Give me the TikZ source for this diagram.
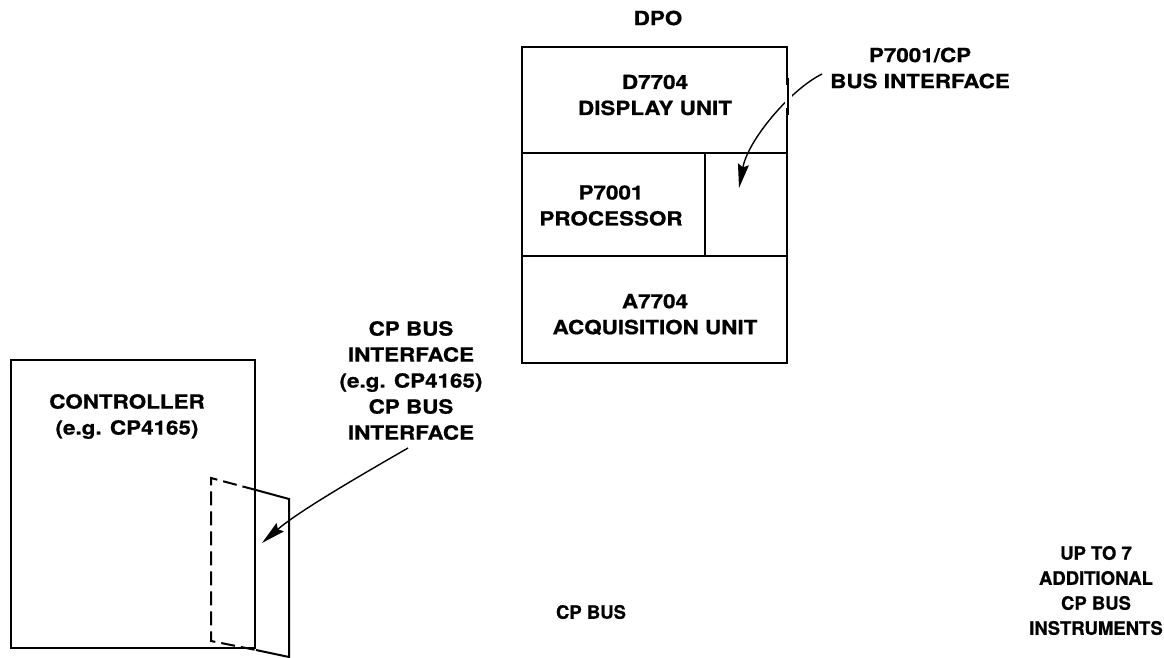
\documentclass[tikz,border=0pt]{standalone}
\usepackage{fontspec}
\newfontfamily\wideff{TeX Gyre Heros}[FakeStretch=1.15, BoldFeatures={FakeBold=0.8}]
\newfontfamily\normff{TeX Gyre Heros}[BoldFeatures={FakeBold=0.8}]
\usetikzlibrary{arrows.meta}
\begin{document}
\begin{tikzpicture}[x=1pt,y=-1pt,
  boxline/.style={draw=black, line width=2pt},
  cell/.style={boxline, rectangle, inner sep=0pt},
  widetxt/.style={font=\wideff\bfseries\fontsize{19.5}{26}\selectfont, align=center, inner sep=0pt},
  normtxt/.style={font=\normff\bfseries\fontsize{18.5}{25}\selectfont, align=center, inner sep=0pt},
  pointer/.style={line width=1.4pt, -{Stealth[length=24pt,width=11pt,inset=3pt]}},
  cardsolid/.style={line width=2pt, line join=miter},
  carddash/.style={line width=2pt, dash pattern=on 14pt off 6pt}]
\useasboundingbox (0,0) rectangle (1164,658);
% DPO cells
\node[cell, minimum width=265pt, minimum height=106pt] (display) at (654.5,100) {};
\node[cell, minimum width=183pt, minimum height=103pt] (proc) at (613.5,204.5) {};
\node[cell, minimum width=82pt, minimum height=103pt] (pcif) at (746,204.5) {};
\node[cell, minimum width=265pt, minimum height=107pt] (acq) at (654.5,309.5) {};
% texts
\node[widetxt] (dpo) at (658,18) {DPO};
\node[widetxt] (disptxt) at (655,95) {D7704\\DISPLAY UNIT};
\node[widetxt] (proctxt) at (611,205.5) {P7001\\PROCESSOR};
\node[widetxt] (acqtxt) at (655,314.5) {A7704\\ACQUISITION UNIT};
\node[widetxt] (pciflbl) at (920,68) {P7001/CP\\BUS INTERFACE};
\node[widetxt] (cpiflbl) at (411,380.5) {CP BUS\\INTERFACE\\(e.g. CP4165)\\CP BUS\\INTERFACE};
% controller
\node[cell, minimum width=244pt, minimum height=288pt] (ctrl) at (133,504) {};
\node[widetxt] (ctrltxt) at (127,416.5) {CONTROLLER\\(e.g. CP4165)};
\node[normtxt] (cpbus) at (591,612) {CP BUS};
\node[normtxt] (addl) at (1096,590.5) {UP TO 7\\ADDITIONAL\\CP BUS\\INSTRUMENTS};
% interface card
\coordinate (cTL) at (211,478);
\coordinate (cTR) at (289,499);
\coordinate (cBR) at (289,657);
\coordinate (cBL) at (211,641);
\coordinate (cTM) at (ctrl.east |- 0,490);
\coordinate (cBM) at (ctrl.east |- 0,650);
\draw[carddash] (cTM) -- (cTL) -- (cBL) -- (cBM);
\draw[cardsolid] (cTM) -- (cTR) -- (cBR) -- (cBM);
% pointer to P7001/CP bus interface
\coordinate (a1s) at (822,74);
\coordinate (a1e) at (739,188);
\draw[pointer] (a1s) .. controls (790,90) and (748,140) .. (a1e);
\draw[white, line width=7pt] (display.east |- 0,85) -- (display.east |- 0,108);
\draw[boxline] (display.east |- 0,78) -- (display.east |- 0,115);
% pointer to CP bus interface card
\coordinate (a2s) at (408,448);
\coordinate (a2e) at (262,543);
\draw[pointer] (a2s) .. controls (370,470) and (300,510) .. (a2e);
\end{tikzpicture}
\end{document}
